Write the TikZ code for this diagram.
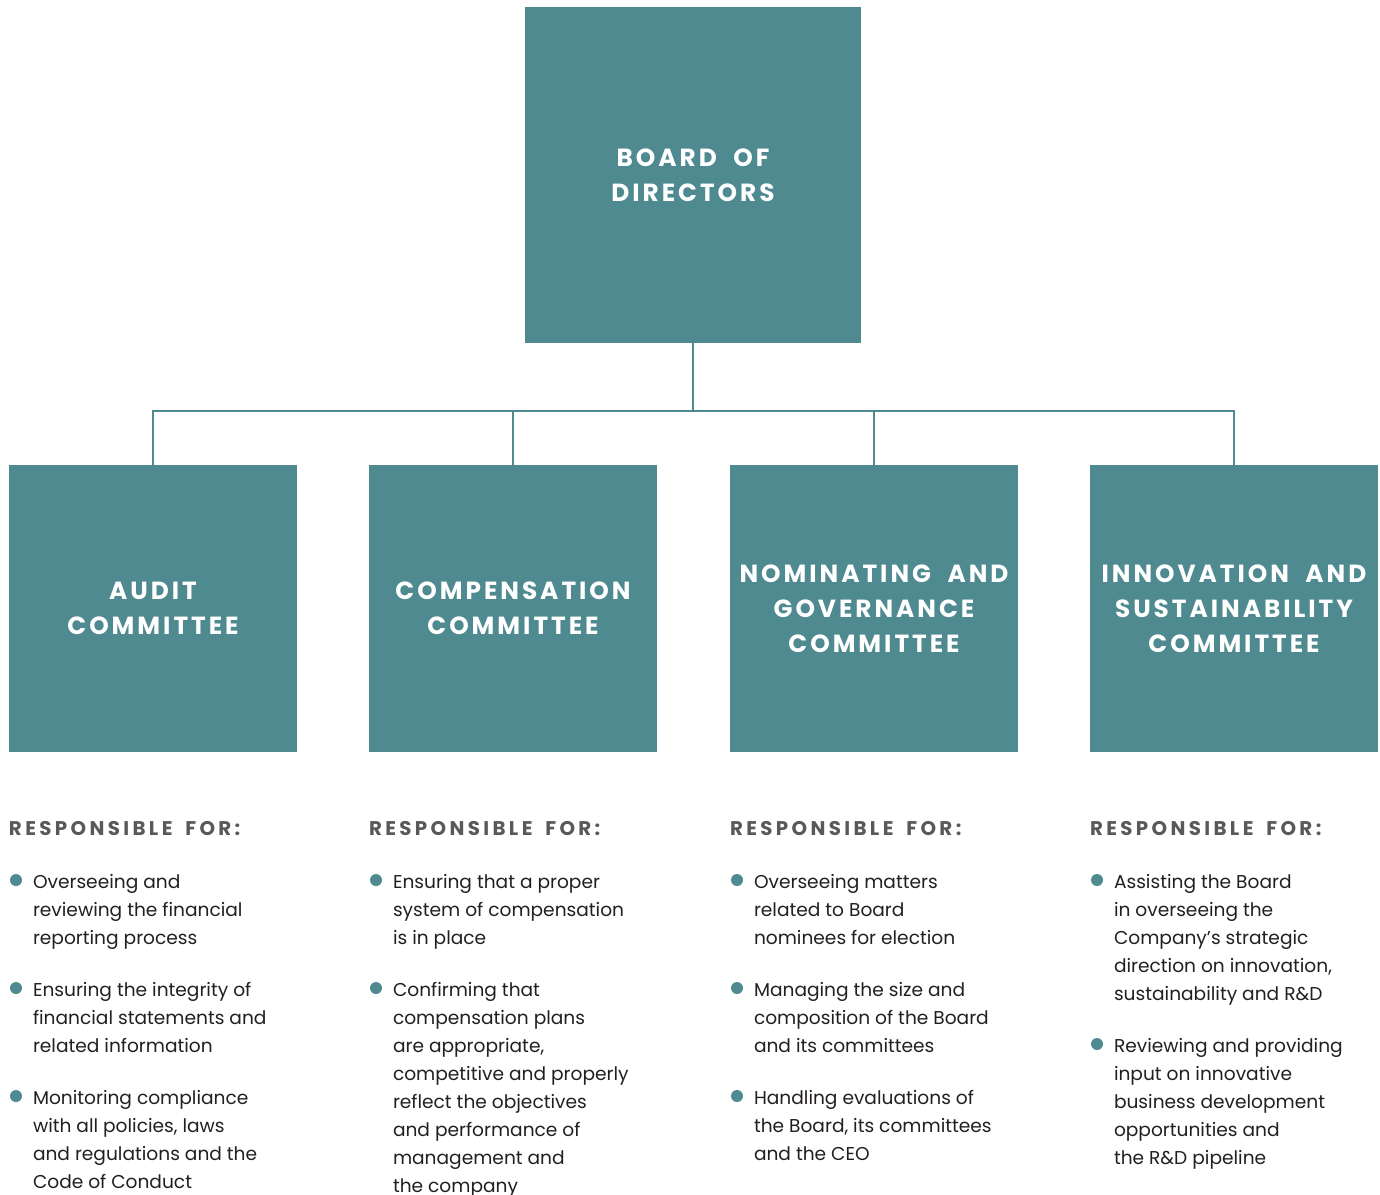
\documentclass[tikz,border=0pt]{standalone}
\usepackage{fontspec}
\setmainfont{Poppins}
\newfontfamily\orgcapsfont[LetterSpace=12,WordSpace=2]{Poppins}
\newfontfamily\orgheadfont[LetterSpace=17,WordSpace=1.7]{Poppins}
\usetikzlibrary{positioning}
\definecolor{orgTeal}{HTML}{4F8A91}
\definecolor{orgGray}{HTML}{58595B}
\definecolor{orgInk}{HTML}{231F20}
\tikzset{
  org chart/.style={
    x=0.5pt, y=-0.5pt,
    every node/.style={inner sep=0pt, outer sep=0pt}
  },
  org box/.style={fill=orgTeal, text=white, align=center,
    font=\orgcapsfont\bfseries\fontsize{12.4}{17.5}\selectfont},
  org link/.style={draw=orgTeal, line width=1.2pt},
  org head/.style={anchor=base west, text=orgGray,
    font=\orgheadfont\bfseries\fontsize{9.9}{11}\selectfont},
  org text/.style={anchor=north west, align=left, text=orgInk,
    font=\fontsize{9.3}{14}\selectfont},
  org dot/.style={fill=orgTeal}
}
% #1 name, #2 x of text, #3 first baseline, #4 lines
\newcommand{\OrgItem}[4]{%
  \fill[org dot] (#2-17,#3-8) circle (3pt);
  \node[org text] (#1) at (#2,#3-18) {\rule{0pt}{9pt}#4};
}

\begin{document}
\begin{tikzpicture}[org chart]
  \useasboundingbox (0,0) rectangle (1380,1194);
  \node[org box, minimum width=168pt, minimum height=168pt] (board) at (693,175)
    {BOARD OF\\DIRECTORS};
  \node[org box, minimum width=144pt, minimum height=143.5pt] (audit) at (153,608.5)
    {AUDIT\\COMMITTEE};
  \node[org box, minimum width=144pt, minimum height=143.5pt] (comp) at (513,608.5)
    {COMPENSATION\\COMMITTEE};
  \node[org box, minimum width=144pt, minimum height=143.5pt] (nomgov) at (874,608.5)
    {NOMINATING AND\\GOVERNANCE\\COMMITTEE};
  \node[org box, minimum width=144pt, minimum height=143.5pt] (innov) at (1234,608.5)
    {INNOVATION AND\\SUSTAINABILITY\\COMMITTEE};

  \coordinate (bus) at (693,411);
  \draw[org link] (board.south) -- (bus);
  \draw[org link] (audit.north) |- (bus) -| (innov.north);
  \draw[org link] (comp.north) -- (comp.north |- bus);
  \draw[org link] (nomgov.north) -- (nomgov.north |- bus);

  \node[org head] (auditHead) at (9,835) {RESPONSIBLE FOR:};
  \node[org head] (compHead) at (369,835) {RESPONSIBLE FOR:};
  \node[org head] (nomgovHead) at (730,835) {RESPONSIBLE FOR:};
  \node[org head] (innovHead) at (1090,835) {RESPONSIBLE FOR:};

  \OrgItem{auditA}{33}{888}{Overseeing and\\reviewing the financial\\reporting process}
  \OrgItem{auditB}{33}{996}{Ensuring the integrity of\\financial statements and\\related information}
  \OrgItem{auditC}{33}{1104}{Monitoring compliance\\with all policies, laws\\and regulations and the\\Code of Conduct}

  \OrgItem{compA}{393}{888}{Ensuring that a proper\\system of compensation\\is in place}
  \OrgItem{compB}{393}{996}{Confirming that\\compensation plans\\are appropriate,\\competitive and properly\\reflect the objectives\\and performance of\\management and\\the company}

  \OrgItem{nomgovA}{754}{888}{Overseeing matters\\related to Board\\nominees for election}
  \OrgItem{nomgovB}{754}{996}{Managing the size and\\composition of the Board\\and its committees}
  \OrgItem{nomgovC}{754}{1104}{Handling evaluations of\\the Board, its committees\\and the CEO}

  \OrgItem{innovA}{1114}{888}{Assisting the Board\\in overseeing the\\Company’s strategic\\direction on innovation,\\sustainability and R\&D}
  \OrgItem{innovB}{1114}{1052}{Reviewing and providing\\input on innovative\\business development\\opportunities and\\the R\&D pipeline}
\end{tikzpicture}
\end{document}
